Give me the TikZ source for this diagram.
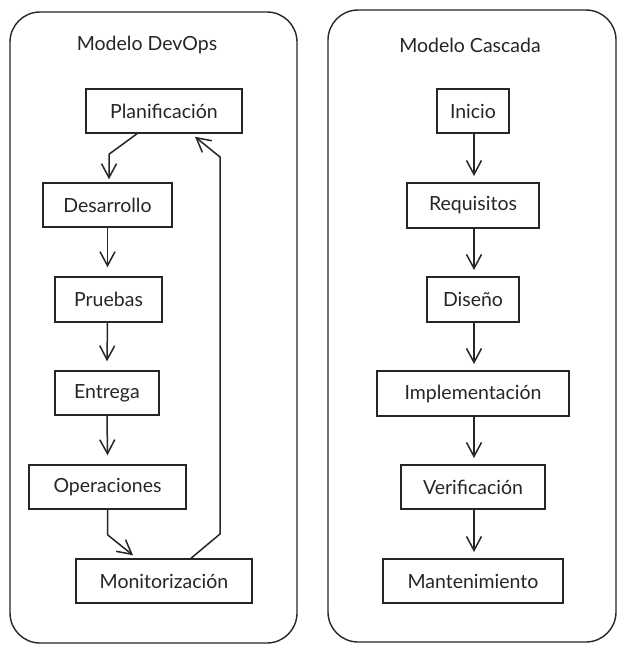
\documentclass[tikz,border=0pt]{standalone}
\usepackage{fontspec}
\setmainfont{Lato}
\usetikzlibrary{arrows.meta}
\begin{document}
\begin{tikzpicture}[x=1pt,y=-1pt,
  panel/.style={draw=black!85,line width=1.4pt,rounded corners=30pt},
  title/.style={font=\fontsize{19.5}{23}\selectfont,text=black!85},
  lbox/.style={draw=black!85,line width=1.5pt,inner sep=0pt,font=\fontsize{19.5}{23}\selectfont,text=black!85},
  rbox/.style={draw=black!85,line width=2pt,inner sep=0pt,font=\fontsize{19.5}{23}\selectfont,text=black!85},
  arr/.style={draw=black!85,line width=1.5pt,-{Straight Barb[length=14pt,width=15pt,line width=1.5pt]}},
  rarr/.style={arr,line width=2pt}]
\useasboundingbox (0,0) rectangle (626,654);
\fill[white] (0,0) rectangle (626,654);
% panels
\draw[panel] (10,12) rectangle (297,643);
\draw[panel] (328,10) rectangle (616,642);
\node[title] (t1) at (147,45) {Modelo DevOps};
\node[title] (t2) at (470,45) {Modelo Cascada};
% left nodes
\node[lbox,minimum width=156pt,minimum height=44pt] (plan) at (164,111) {Planificación};
\node[lbox,minimum width=129pt,minimum height=44pt] (des) at (107.5,205) {Desarrollo};
\node[lbox,minimum width=107pt,minimum height=45pt] (pru) at (108.5,299.5) {Pruebas};
\node[lbox,minimum width=104pt,minimum height=44pt] (ent) at (107,393) {Entrega};
\node[lbox,minimum width=157pt,minimum height=44pt] (ope) at (107.5,487) {Operaciones};
\node[lbox,minimum width=176pt,minimum height=44pt] (mon) at (164,581) {Monitorización};
% right nodes
\node[rbox,minimum width=72pt,minimum height=44pt] (ini) at (473,111) {Inicio};
\node[rbox,minimum width=132pt,minimum height=45pt] (req) at (473,205.5) {Requisitos};
\node[rbox,minimum width=92pt,minimum height=45pt] (dis) at (473,299.5) {Diseño};
\node[rbox,minimum width=192pt,minimum height=45pt] (imp) at (473,393.5) {Implementación};
\node[rbox,minimum width=144pt,minimum height=44pt] (ver) at (473,487) {Verificación};
\node[rbox,minimum width=180pt,minimum height=44pt] (man) at (473,581) {Mantenimiento};
% left connectors
\draw[arr] ([xshift=-27pt]plan.south) -- ([xshift=1.5pt,yshift=28pt]des.north) -- ([xshift=1.5pt,yshift=3pt]des.north);
\draw[arr] (des.south) -- ([xshift=-1pt,yshift=9pt]pru.north);
\draw[arr] ([xshift=-1pt]pru.south) -- ([yshift=9pt]ent.north);
\draw[arr] (ent.south) -- ([yshift=9pt]ope.north);
\draw[arr] (ope.south) -- ([yshift=-25pt]ope.south) -- ([xshift=-31pt,yshift=3pt]mon.north);
\coordinate (c1) at (220,534);
\coordinate (c2) at (220,157);
\draw[arr] ([xshift=27pt]mon.north) -- (c1) -- (c2) -- ([xshift=31pt,yshift=-3pt]plan.south);
% right connectors
\draw[rarr] ([xshift=1pt]ini.south) -- ([xshift=1pt,yshift=6pt]req.north);
\draw[rarr] ([xshift=1pt]req.south) -- ([xshift=1pt,yshift=6pt]dis.north);
\draw[rarr] ([xshift=1pt]dis.south) -- ([xshift=1pt,yshift=6pt]imp.north);
\draw[rarr] ([xshift=1pt]imp.south) -- ([xshift=1pt,yshift=6pt]ver.north);
\draw[rarr] ([xshift=1pt]ver.south) -- ([xshift=1pt,yshift=6pt]man.north);
\end{tikzpicture}
\end{document}
